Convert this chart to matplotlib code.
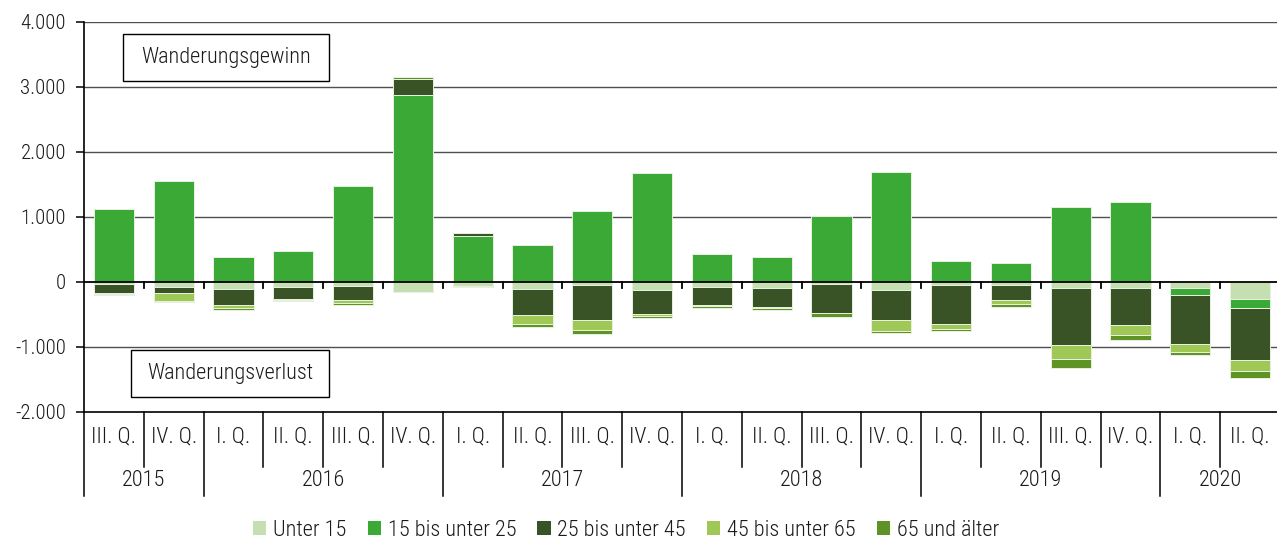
import matplotlib
matplotlib.use('Agg')
import matplotlib.pyplot as plt
from matplotlib import font_manager
from matplotlib.patches import Rectangle, Patch
import numpy as np

# ---------------- data ----------------
quarters = ['III. Q.', 'IV. Q.',
            'I. Q.', 'II. Q.', 'III. Q.', 'IV. Q.',
            'I. Q.', 'II. Q.', 'III. Q.', 'IV. Q.',
            'I. Q.', 'II. Q.', 'III. Q.', 'IV. Q.',
            'I. Q.', 'II. Q.', 'III. Q.', 'IV. Q.',
            'I. Q.', 'II. Q.']
years = ['2015', '2016', '2017', '2018', '2019', '2020']
year_counts = [2, 4, 4, 4, 4, 2]

series_names = ['Unter 15', '15 bis unter 25', '25 bis unter 45',
                '45 bis unter 65', '65 und älter']
unter15 = [-40, -87, -108, -82, -62, -164, -65, -108, -46, -128,
           -82, -97, -36, -128, -46, -46, -92, -97, -103, -262]
a15_25 = [1115, 1545, 380, 472, 1465, 2877, 705, 567, 1095, 1672,
          420, 380, 1005, 1680, 317, 285, 1145, 1222, -97, -138]
a25_45 = [-133, -92, -256, -190, -220, 236, 37, -405, -539, -369,
          -282, -292, -446, -467, -610, -241, -882, -569, -764, -810]
a45_65 = [-20, -123, -36, -10, -41, 0, -20, -138, -154, -26,
          -5, -15, -5, -169, -72, -56, -215, -159, -123, -164]
a65 = [-15, -5, -41, -15, -31, 41, 0, -51, -72, -31,
       -41, -36, -62, -20, -26, -41, -133, -77, -41, -108]
series = [unter15, a15_25, a25_45, a45_65, a65]
colors = ['#c5dfb2', '#3aa935', '#3a5326', '#a0c856', '#5f9325']

yticks = [-2000, -1000, 0, 1000, 2000, 3000, 4000]
ytick_labels = ['-2.000', '-1.000', '0', '1.000', '2.000', '3.000', '4.000']

# ---------------- fonts ----------------
names = {f.name for f in font_manager.fontManager.ttflist}
fam, fs, tfs = 'Roboto', 13.5, 12.5
for cand in ['Liberation Sans Narrow', 'Arial Narrow', 'Roboto Condensed', 'Open Sans Condensed']:
    if cand in names:
        fam, fs, tfs = cand, 16, 15
        break
plt.rcParams['font.family'] = [fam, 'DejaVu Sans']
plt.rcParams['font.weight'] = 'light'
plt.rcParams['text.color'] = '#1a1a1a'

W, H = 1277, 543
fig = plt.figure(figsize=(W / 100, H / 100), dpi=100)
ax_left, ax_right = 84, 1280
y_top, y_bot = 21.7, 411.7
ax = fig.add_axes([ax_left / W, 1 - y_bot / H, (ax_right - ax_left) / W, (y_bot - y_top) / H])

x = np.arange(len(quarters))
pos_b = np.zeros(len(x))
neg_b = np.zeros(len(x))
for vals, col, nm in zip(series, colors, series_names):
    v = np.array(vals, dtype=float)
    bottom = np.where(v >= 0, pos_b, neg_b)
    ax.bar(x, v, 0.67, bottom=bottom, color=col, edgecolor='#e8f2e0',
           linewidth=0.7, zorder=2, label=nm)
    pos_b += np.clip(v, 0, None)
    neg_b += np.clip(v, None, 0)

ax.set_xlim(-0.5, len(x) - 0.5)
ax.set_ylim(-2000, 4000)

for yv in [4000, 3000, 2000, 1000, -1000]:
    ax.axhline(yv, color='#505050', lw=1.0, zorder=1)
ax.axhline(0, color='black', lw=1.3, zorder=4)
tick_len = 95
for b in np.arange(0.5, len(x) - 0.5, 1.0):
    ax.plot([b, b], [0, -tick_len], color='black', lw=1.3, zorder=4)

for s in ['top', 'right']:
    ax.spines[s].set_visible(False)
for s in ['left', 'bottom']:
    ax.spines[s].set_color('black')
    ax.spines[s].set_linewidth(1.2)

ax.set_yticks(yticks, ytick_labels)
ax.tick_params(axis='y', length=6, width=1.1, pad=7, labelsize=tfs, colors='black', labelcolor='#1a1a1a')
ax.set_xticks([])

# category axis below
px = 1000 / 65.0  # data units per pixel
zero_px = 281.7
def ydata(py):
    return (zero_px - py) * px

q_bottom = ydata(467)
y_bottom_line = ydata(496)
year_starts = np.cumsum([0] + year_counts[:-1])
year_bounds = set((year_starts - 0.5).tolist())
for b in np.arange(-0.5, len(x) - 0.5, 1.0):
    yb = y_bottom_line if b in year_bounds else q_bottom
    ax.plot([b, b], [-2000, yb], color='black', lw=1.1, clip_on=False, zorder=4)
for i, q in enumerate(quarters):
    ax.text(i, ydata(437), q, ha='center', va='center', fontsize=fs, clip_on=False)
for ys, n, yr in zip(year_starts, year_counts, years):
    ax.text(ys + (n - 1) / 2, ydata(481), yr, ha='center', va='center', fontsize=fs, clip_on=False)

# annotation boxes
def box(x0, x1, y0, y1, txt):
    r = Rectangle((x0 / W, 1 - y1 / H), (x1 - x0) / W, (y1 - y0) / H, transform=fig.transFigure,
                  facecolor='white', edgecolor='black', lw=1.0, zorder=10)
    fig.add_artist(r)
    fig.text((x0 + x1) / 2 / W, 1 - (y0 + y1) / 2 / H, txt, ha='center', va='center', fontsize=fs, zorder=11)

box(123, 329, 34, 81, 'Wanderungsgewinn')
box(131, 329, 350, 397, 'Wanderungsverlust')

handles = [Patch(facecolor=c, edgecolor='none', label=n) for c, n in zip(colors, series_names)]
fig.legend(handles=handles, loc='center', bbox_to_anchor=(626 / W, 1 - 530 / H), ncol=5,
           frameon=False, fontsize=fs, handlelength=0.6, handleheight=0.6,
           handletextpad=0.3, columnspacing=0.95, borderpad=0)

fig.savefig('out.png', dpi=100)
